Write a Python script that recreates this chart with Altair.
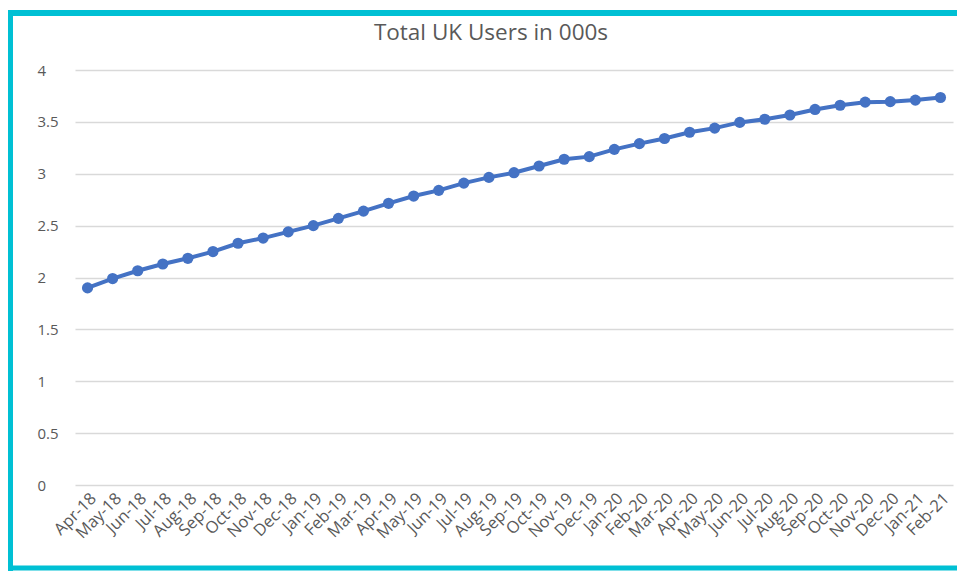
import altair as alt
import pandas as pd

months = [
    "Apr-18", "May-18", "Jun-18", "Jul-18", "Aug-18", "Sep-18", "Oct-18", "Nov-18", "Dec-18",
    "Jan-19", "Feb-19", "Mar-19", "Apr-19", "May-19", "Jun-19", "Jul-19", "Aug-19", "Sep-19",
    "Oct-19", "Nov-19", "Dec-19",
    "Jan-20", "Feb-20", "Mar-20", "Apr-20", "May-20", "Jun-20", "Jul-20", "Aug-20", "Sep-20",
    "Oct-20", "Nov-20", "Dec-20",
    "Jan-21", "Feb-21",
]
users = [
    1.90, 1.99, 2.065, 2.13, 2.185, 2.25, 2.33, 2.38, 2.44,
    2.50, 2.57, 2.64, 2.715, 2.785, 2.84, 2.91, 2.965, 3.01,
    3.075, 3.14, 3.165,
    3.235, 3.29, 3.34, 3.40, 3.44, 3.495, 3.525, 3.566, 3.62,
    3.66, 3.69, 3.695,
    3.71, 3.735,
]
y_ticks = [0, 0.5, 1, 1.5, 2, 2.5, 3, 3.5, 4]
title_text = "Total UK Users in 000s"

df = pd.DataFrame({"month": months, "users": users})

FONT = "Open Sans"
TXT = "#595959"
BLUE = "#4472C4"
CYAN = "#00C0D4"

W, H = 878, 415
PAD_L, PAD_T = 67, 62
TOTAL_W, TOTAL_H = 949, 563
RIGHT = TOTAL_W - PAD_L - W

x_enc = alt.X(
    "month:O",
    sort=months,
    scale=alt.Scale(type="point", padding=0.5),
    axis=alt.Axis(
        title=None, labelAngle=-45, labelFontSize=16.5, labelFont=FONT,
        labelColor=TXT, ticks=False, domain=False, grid=False,
        labelPadding=5, labelOverlap=False,
    ),
)
y_enc = alt.Y(
    "users:Q",
    scale=alt.Scale(domain=[0, 4], nice=False),
    axis=alt.Axis(
        title=None, values=y_ticks, format=".1~f", labelFontSize=15,
        labelFont=FONT, labelColor=TXT, ticks=False, tickSize=0,
        domain=False, grid=True, gridColor="#d9d9d9", gridWidth=1.5,
        labelAlign="left", labelPadding=38,
    ),
)

base = alt.Chart(df)
line = base.mark_line(color=BLUE, strokeWidth=4).encode(x=x_enc, y=y_enc)
pts = base.mark_circle(color=BLUE, size=125, opacity=1).encode(x=x_enc, y=y_enc)

one = alt.Data(values=[{"t": title_text}])

top_rule = alt.Chart(one).mark_rule(color=CYAN, strokeWidth=6).encode(
    x=alt.value(-PAD_L), x2=alt.value(W + RIGHT), y=alt.value(-57)
)
left_rule = alt.Chart(one).mark_rule(color=CYAN, strokeWidth=5).encode(
    x=alt.value(-PAD_L + 2.5), y=alt.value(-60), y2=alt.value(TOTAL_H - PAD_T)
)
bottom_rule = alt.Chart(one).mark_rule(color=CYAN, strokeWidth=5).encode(
    x=alt.value(-PAD_L), x2=alt.value(W + RIGHT), y=alt.value(TOTAL_H - PAD_T - 3)
)

title = alt.Chart(one).mark_text(
    font=FONT, fontSize=22.5, color=TXT, align="center", baseline="middle"
).encode(
    text="t:N",
    x=alt.value(W / 2 - 23),
    y=alt.value(-37),
)

chart = alt.layer(top_rule, left_rule, bottom_rule, title, line, pts).properties(
    width=W,
    height=H,
    padding={"left": PAD_L, "top": PAD_T, "right": RIGHT, "bottom": TOTAL_H - PAD_T - H},
    autosize=alt.AutoSizeParams(type="none"),
).configure(background="white", view=alt.ViewConfig(strokeWidth=0, stroke="transparent"))

chart.save("out.html", embed_options={"renderer": "svg", "actions": False})
